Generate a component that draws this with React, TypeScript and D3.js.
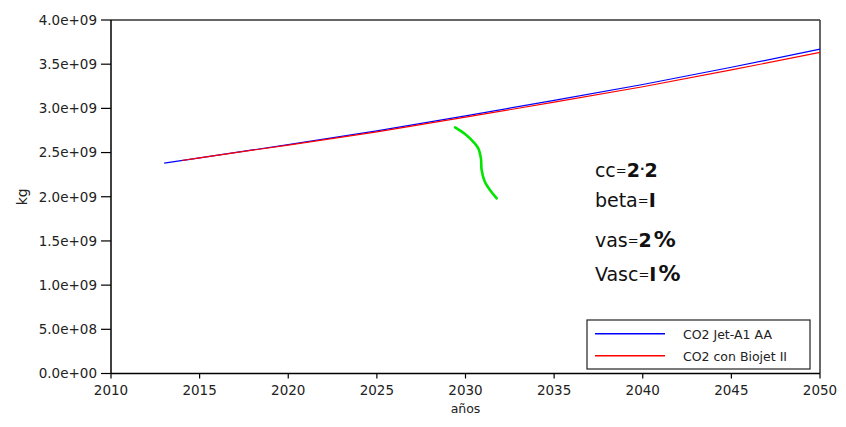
import React from "react";
import * as d3 from "d3";

// Emisiones de CO2 (kg) por año
const yearsJet = [2013, 2015, 2020, 2025, 2030, 2035, 2040, 2045, 2050];
const co2JetA1 = [2.38e9, 2.44e9, 2.59e9, 2.745e9, 2.915e9, 3.09e9, 3.27e9, 3.465e9, 3.67e9];

const yearsBio = [2014, 2015, 2020, 2025, 2030, 2035, 2040, 2045, 2050];
const co2Biojet = [2.41e9, 2.44e9, 2.585e9, 2.735e9, 2.9e9, 3.07e9, 3.245e9, 3.435e9, 3.633e9];

// Trazo a mano alzada (año, kg)
const penX = [2029.41, 2029.97, 2030.44, 2030.72, 2030.87, 2030.91, 2031.09, 2031.38, 2031.76];
const penY = [2.785e9, 2.71e9, 2.622e9, 2.548e9, 2.434e9, 2.302e9, 2.17e9, 2.076e9, 1.982e9];

const xTicks = [2010, 2015, 2020, 2025, 2030, 2035, 2040, 2045, 2050];
const yTicks = [0, 5e8, 1e9, 1.5e9, 2e9, 2.5e9, 3e9, 3.5e9, 4e9];

const seriesNames = ["CO2 Jet-A1 AA", "CO2 con Biojet II"];
const seriesColors = ["#0000ff", "#ff0000"];

const W = 846;
const H = 427;
const M = { left: 111, right: 26, top: 20, bottom: 53.5 };

const fmtY = (v: number) => {
  const s = v.toExponential(1);
  const [m, e] = s.split("e");
  const sign = e[0] === "-" ? "-" : "+";
  const digits = e.replace(/[+-]/, "").padStart(2, "0");
  return `${m}e${sign}${digits}`;
};

export default function App() {
  const x = d3.scaleLinear().domain([2010, 2050]).range([M.left, W - M.right]);
  const y = d3.scaleLinear().domain([0, 4e9]).range([H - M.bottom, M.top]);

  const line = d3
    .line<[number, number]>()
    .x((d) => x(d[0]))
    .y((d) => y(d[1]));

  const jet = line(yearsJet.map((yr, i) => [yr, co2JetA1[i]]))!;
  const bio = line(yearsBio.map((yr, i) => [yr, co2Biojet[i]]))!;
  const pen = d3
    .line<[number, number]>()
    .x((d) => x(d[0]))
    .y((d) => y(d[1]))
    .curve(d3.curveCatmullRom)(penX.map((v, i) => [v, penY[i]]))!;

  const x0 = x(2010);
  const x1 = x(2050);
  const y0 = y(0);
  const y1 = y(4e9);

  const font = "DejaVu Sans, Verdana, sans-serif";
  const tx = x(2037.3);

  return (
    <svg
      width={W}
      height={H}
      style={{ position: "absolute", left: 0, top: 0, background: "#fff" }}
      fontFamily={font}
    >
      <rect width={W} height={H} fill="#fff" />

      {/* marco */}
      <line x1={x0} x2={x1} y1={y1} y2={y1} stroke="#333" strokeWidth={1.5} />
      <line x1={x1} x2={x1} y1={y1} y2={y0} stroke="#333" strokeWidth={1.5} />

      {/* series */}
      <path d={jet} fill="none" stroke={seriesColors[0]} strokeWidth={1.2} />
      <path d={bio} fill="none" stroke={seriesColors[1]} strokeWidth={1.2} />

      {/* anotación */}
      <path d={pen} fill="none" stroke="#00e600" strokeWidth={2.6} strokeLinecap="round" />

      <g fill="#111" fontSize={19}>
        <text x={tx} y={y(2.223e9)}>
          cc<tspan fontSize={13} dy={-2}>=</tspan>
          <tspan fontWeight="bold" dy={2}>2</tspan>
          <tspan fontWeight="bold" fontSize={12} dy={-4}>·</tspan>
          <tspan fontWeight="bold" dy={4}>2</tspan>
        </text>
        <text x={tx} y={y(1.884e9)}>
          beta<tspan fontSize={13} dy={-2}>=</tspan>
          <tspan fontWeight="bold" dy={2}>I</tspan>
        </text>
        <text x={tx} y={y(1.434e9)}>
          vas<tspan fontSize={13} dy={-2}>=</tspan>
          <tspan fontWeight="bold" dy={2}>2</tspan>
          <tspan fontWeight="bold" fontSize={22} dx={2}>%</tspan>
        </text>
        <text x={tx} y={y(1.05e9)}>
          Vasc<tspan fontSize={13} dy={-2}>=</tspan>
          <tspan fontWeight="bold" dy={2}>I</tspan>
          <tspan fontWeight="bold" fontSize={22} dx={2}>%</tspan>
        </text>
      </g>

      {/* ejes */}
      <line x1={x0} x2={x1} y1={y0} y2={y0} stroke="#000" strokeWidth={1.5} />
      <line x1={x0} x2={x0} y1={y0} y2={y1} stroke="#000" strokeWidth={1.5} />

      {yTicks.map((t) => (
        <g key={t}>
          <line x1={x0 - 10} x2={x0} y1={y(t)} y2={y(t)} stroke="#000" strokeWidth={1.2} />
          <text x={x0 - 14} y={y(t)} dy="0.36em" textAnchor="end" fontSize={13.5} fill="#222">
            {fmtY(t)}
          </text>
        </g>
      ))}
      {xTicks.map((t) => (
        <g key={t}>
          <line x1={x(t)} x2={x(t)} y1={y0} y2={y0 + 5} stroke="#000" strokeWidth={1.2} />
          <text x={x(t)} y={y0 + 21.5} textAnchor="middle" fontSize={13.5} fill="#222">
            {t}
          </text>
        </g>
      ))}

      <text x={(x0 + x1) / 2} y={413} textAnchor="middle" fontSize={12.5} fill="#222">
        años
      </text>
      <text
        transform={`translate(27,${(y0 + y1) / 2}) rotate(-90)`}
        textAnchor="middle"
        fontSize={14}
        fill="#222"
      >
        kg
      </text>

      {/* leyenda */}
      <g>
        <rect x={587} y={320} width={223} height={49} fill="#fff" stroke="#222" strokeWidth={1.2} />
        {seriesNames.map((name, i) => (
          <g key={name}>
            <rect
              x={595}
              y={333 + i * 22}
              width={70}
              height={1.5}
              fill={seriesColors[i]}
            />
            <text x={683} y={338.5 + i * 22} fontSize={12.5} fill="#222">
              {name}
            </text>
          </g>
        ))}
      </g>
    </svg>
  );
}
